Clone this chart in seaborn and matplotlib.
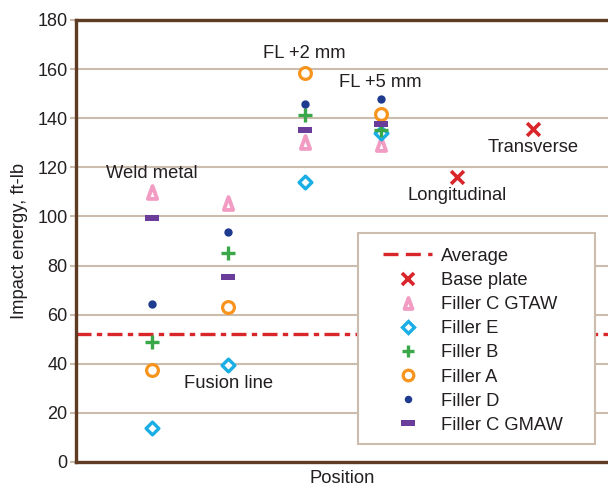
import matplotlib
matplotlib.use("Agg")
import matplotlib.pyplot as plt
from matplotlib.path import Path
from matplotlib.patches import Rectangle
from matplotlib.lines import Line2D
import seaborn as sns

# Test positions along the weld
positions = ["Weld metal", "Fusion line", "FL +2 mm", "FL +5 mm", "Longitudinal", "Transverse"]

# Charpy impact energy (ft-lb) by filler and position
filler_c_gtaw = [110, 105.5, 130.3, 129.5]
filler_e = [13.8, 39.5, 114, 134]
filler_b = [48.9, 85, 141.3, 135.2]
filler_a = [37.5, 63.1, 158.4, 141.7]
filler_d = [64.3, 93.6, 145.8, 147.8]
filler_c_gmaw = [99.4, 75.3, 135.2, 137.6]
base_plate = [116, 135.6]          # longitudinal, transverse
average = 52.1

y_ticks = [0, 20, 40, 60, 80, 100, 120, 140, 160, 180]

sns.set_theme(style="white")
plt.rcParams["font.family"] = ["Liberation Sans", "DejaVu Sans"]
text_color = "#231f20"
brown = "#5e3b22"
tan = "#cbbcad"
fs = 13.2

fig = plt.figure(figsize=(6.08, 4.88), dpi=100)
ax = fig.add_axes([76 / 608, 26 / 488, 1 - 76 / 608 + 0.002, 442 / 488])

x_weld = [1, 2, 3, 4]
x_base = [5, 6]

# Flat bar and slender triangle marker shapes
bar_marker = Path([(-1, -0.42), (1, -0.42), (1, 0.42), (-1, 0.42), (-1, -0.42)],
                  [Path.MOVETO, Path.LINETO, Path.LINETO, Path.LINETO, Path.CLOSEPOLY])
tri_marker = Path([(-0.36, -0.5), (0.36, -0.5), (0, 0.5), (-0.36, -0.5)],
                  [Path.MOVETO, Path.LINETO, Path.LINETO, Path.CLOSEPOLY])

avg_style = (0, (4.5, 1.6, 1.6, 1.6))
ax.axhline(average, color="#d9262b", lw=2.4, linestyle=avg_style, zorder=2)

series = [
    ("Base plate", x_base, base_plate, dict(marker="x", color="#d9262b", s=85, linewidth=2.6)),
    ("Filler C GTAW", x_weld, filler_c_gtaw, dict(marker=tri_marker, facecolor="white", edgecolor="#f29cc3", s=85, linewidth=2.8)),
    ("Filler E", x_weld, filler_e, dict(marker="D", facecolor="white", edgecolor="#1aaee5", s=42, linewidth=2.4)),
    ("Filler B", x_weld, filler_b, dict(marker="+", color="#3aa848", s=90, linewidth=2.4)),
    ("Filler A", x_weld, filler_a, dict(marker="o", facecolor="white", edgecolor="#f7941d", s=72, linewidth=2.3)),
    ("Filler D", x_weld, filler_d, dict(marker="o", color="#1f3b8f", edgecolor="#1f3b8f", s=36, linewidth=0)),
    ("Filler C GMAW", x_weld, filler_c_gmaw, dict(marker=bar_marker, color="#6a3d9a", edgecolor="#6a3d9a", s=110, linewidth=0)),
]

handles = [Line2D([], [], color="#d9262b", lw=2.4, linestyle=(0, (4.5, 2.2)))]
labels = ["Average"]
for name, xs, ys, kw in series:
    sns.scatterplot(x=xs, y=ys, ax=ax, zorder=4, **kw)
    fc = kw.get("facecolor", kw.get("color"))
    ec = kw.get("edgecolor", kw.get("color"))
    ms = kw["s"] ** 0.5
    mew = kw.get("linewidth", 0)
    scale = {"Base plate": 1.0, "Filler C GTAW": 0.85, "Filler C GMAW": 1.0}.get(name, 0.9)
    handles.append(Line2D([], [], marker=kw["marker"], ls="none", markerfacecolor=fc,
                          markeredgecolor=ec, color=ec, ms=ms * scale, mew=mew))
    labels.append(name)

# Position labels
label_pos = [(1, 117.5), (2, 32), (3, 166.5), (4, 154.5), (5, 108.5), (6, 128)]
for name, (lx, ly) in zip(positions, label_pos):
    ax.text(lx, ly, name, ha="center", va="center", fontsize=fs, color=text_color)

ax.set_xlim(0, 7)
ax.set_ylim(0, 180)
ax.set_yticks(y_ticks)
ax.set_xticks([])
ax.yaxis.grid(True, color=tan, lw=1.5)
ax.set_axisbelow(True)
ax.tick_params(axis="y", which="both", left=True, length=4, width=1.5, color=tan,
               labelsize=13, labelcolor=text_color, pad=2)

for side in ["left", "top", "bottom"]:
    ax.spines[side].set_color(brown)
    ax.spines[side].set_linewidth(2.4)
ax.spines["right"].set_visible(False)

ax.set_xlabel("Position", fontsize=fs, color=text_color, labelpad=6)
ax.set_ylabel("Impact energy, ft-lb", fontsize=fs, color=text_color, labelpad=7)

# Legend box
x0 = (357 - 76) / 532
x1 = (594 - 76) / 532
y0 = (462 - 444) / 442
y1 = (462 - 233) / 442
ax.add_patch(Rectangle((x0, y0), x1 - x0, y1 - y0, transform=ax.transAxes,
                       facecolor="white", edgecolor=tan, lw=1.5, zorder=5))
leg = ax.legend(handles, labels, loc="upper left", bbox_to_anchor=(x0 + 0.037, y1 - 0.021),
                frameon=False, fontsize=fs, handlelength=2.7, handletextpad=0.45,
                labelspacing=0.39, borderpad=0.3, borderaxespad=0)
leg.set_zorder(6)
for t in leg.get_texts():
    t.set_color(text_color)

fig.savefig("out.png", dpi=100)
